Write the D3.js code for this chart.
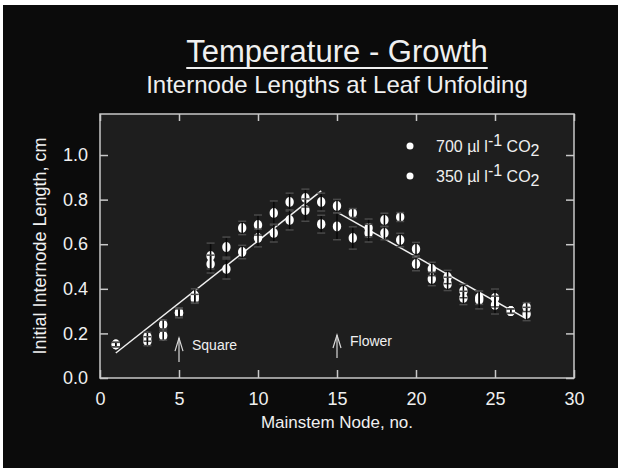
<!DOCTYPE html>
<html>
<head>
<meta charset="utf-8">
<script src="https://cdn.jsdelivr.net/npm/d3@7"></script>
<style>
  body { margin: 0; background: #ffffff; }
  svg text { font-family: "Liberation Sans", Arial, sans-serif; fill: #f0f0f0; }
</style>
</head>
<body>
<div id="container"></div>
<script>
let w = 618;
let h = 468;

// data
let nodes  = [1, 3, 4, 5, 6, 7, 8, 9, 10, 11, 12, 13, 14, 15, 16, 17, 18, 19, 20, 21, 22, 23, 24, 25, 26, 27];
let co2700 = [0.15, 0.185, 0.24, 0.295, 0.37, 0.547, 0.587, 0.673, 0.686, 0.74, 0.789, 0.807, 0.789, 0.771, 0.74, 0.673, 0.709, 0.722, 0.578, 0.489, 0.453, 0.39, 0.36, 0.359, 0.30, 0.318];
let co2350 = [0.15, 0.165, 0.19, 0.29, 0.355, 0.511, 0.489, 0.565, 0.628, 0.65, 0.709, 0.753, 0.69, 0.68, 0.628, 0.65, 0.65, 0.619, 0.511, 0.444, 0.422, 0.359, 0.35, 0.327, 0.30, 0.287];
let err700 = [0.01, 0.02, 0.02, 0.02, 0.03, 0.058, 0.045, 0.03, 0.045, 0.054, 0.04, 0.04, 0.04, 0.03, 0.02, 0.04, 0.03, 0.02, 0.03, 0.03, 0.03, 0.03, 0.03, 0.04, 0.01, 0.02];
let err350 = [0.01, 0.02, 0.02, 0.02, 0.02, 0.04, 0.045, 0.03, 0.04, 0.04, 0.045, 0.05, 0.04, 0.06, 0.05, 0.04, 0.03, 0.03, 0.03, 0.03, 0.03, 0.03, 0.04, 0.04, 0.01, 0.03];

let fitX1 = [1, 14];
let fitY1 = [0.112, 0.839];
let fitX2 = [15, 27];
let fitY2 = [0.744, 0.265];

let xTicks = [0, 5, 10, 15, 20, 25, 30];
let yTicks = [0.0, 0.2, 0.4, 0.6, 0.8, 1.0];

let arrowNodes  = [5, 15];
let arrowLabels = ["Square", "Flower"];
let arrowLow    = [0.072, 0.09];
let arrowHigh   = [0.179, 0.193];
let labelY      = [0.148, 0.166];

let legendLabels = ["700", "350"];

let pLeft = 100, pRight = 574, pTop = 114, pBottom = 378;

let viz = d3.select("#container").append("svg")
    .attr("width", w)
    .attr("height", h);

viz.append("rect")
    .attr("x", 3).attr("y", 5)
    .attr("width", w - 3).attr("height", h - 5)
    .attr("fill", "#0b0b0b");

let x = d3.scaleLinear().domain([0, 30]).range([pLeft, pRight]);
let y = d3.scaleLinear().domain([0, 1.184]).range([pBottom, pTop]);

viz.append("rect")
    .attr("x", pLeft).attr("y", pTop)
    .attr("width", pRight - pLeft).attr("height", pBottom - pTop)
    .attr("fill", "#1e1e1e");

// titles
let title = viz.append("text")
    .attr("x", (pLeft + pRight) / 2).attr("y", 62)
    .attr("text-anchor", "middle")
    .style("font-size", "31px")
    .text("Temperature - Growth");
let bb = title.node().getBBox();
viz.append("line")
    .attr("x1", bb.x).attr("x2", bb.x + bb.width)
    .attr("y1", 68).attr("y2", 68)
    .attr("stroke", "#f0f0f0").attr("stroke-width", 2);

viz.append("text")
    .attr("x", (pLeft + pRight) / 2).attr("y", 93)
    .attr("text-anchor", "middle")
    .style("font-size", "24px")
    .text("Internode Lengths at Leaf Unfolding");

// axes
let axisColor = "#c8c8c8";
function styleAxis(g) {
  g.select(".domain").remove();
  g.selectAll(".tick line").attr("stroke", axisColor).attr("stroke-width", 1.5);
  g.selectAll(".tick text").style("font-size", "18px").attr("fill", "#f0f0f0");
}

viz.append("g")
    .attr("transform", "translate(0," + pBottom + ")")
    .call(d3.axisBottom(x).tickValues(xTicks).tickSize(-8).tickPadding(14).tickFormat(d3.format("d")))
    .call(styleAxis);
viz.append("g")
    .attr("transform", "translate(0," + pTop + ")")
    .call(d3.axisTop(x).tickValues(xTicks).tickSize(-7).tickFormat(""))
    .call(styleAxis);
viz.append("g")
    .attr("transform", "translate(" + pLeft + ",0)")
    .call(d3.axisLeft(y).tickValues(yTicks).tickSize(-8).tickPadding(12).tickFormat(d3.format(".1f")))
    .call(styleAxis);
viz.append("g")
    .attr("transform", "translate(" + pRight + ",0)")
    .call(d3.axisRight(y).tickValues(yTicks).tickSize(-8).tickFormat(""))
    .call(styleAxis);

viz.append("rect")
    .attr("x", pLeft).attr("y", pTop)
    .attr("width", pRight - pLeft).attr("height", pBottom - pTop)
    .attr("fill", "none")
    .attr("stroke", axisColor).attr("stroke-width", 1.5);

viz.append("text")
    .attr("x", (pLeft + pRight) / 2).attr("y", 428)
    .attr("text-anchor", "middle")
    .style("font-size", "17px")
    .text("Mainstem Node, no.");

viz.append("text")
    .attr("transform", "translate(46," + ((pTop + pBottom) / 2) + ") rotate(-90)")
    .attr("text-anchor", "middle")
    .style("font-size", "18px")
    .text("Initial Internode Length, cm");

// fitted lines
let lineMaker = d3.line().x(d => x(d[0])).y(d => y(d[1]));
[[fitX1, fitY1], [fitX2, fitY2]].forEach(function(f) {
  viz.append("path")
      .datum(d3.zip(f[0], f[1]))
      .attr("d", lineMaker)
      .attr("fill", "none")
      .attr("stroke", "#f0f0f0")
      .attr("stroke-width", 1.5);
});

// points with error bars
let points = [];
nodes.forEach(function(n, i) {
  points.push({n: n, v: co2700[i], e: err700[i]});
  points.push({n: n, v: co2350[i], e: err350[i]});
});

viz.selectAll(".pt").data(points).enter()
  .append("ellipse")
    .attr("class", "pt")
    .attr("cx", d => x(d.n))
    .attr("cy", d => y(d.v))
    .attr("rx", 4.2).attr("ry", 5)
    .attr("fill", "#ffffff");

let bars = viz.selectAll(".bar").data(points).enter().append("g").attr("class", "bar");
bars.append("line")
    .attr("x1", d => x(d.n)).attr("x2", d => x(d.n))
    .attr("y1", d => y(d.v - d.e)).attr("y2", d => y(d.v + d.e))
    .attr("stroke", "#080808").attr("stroke-width", 1.5);
bars.append("line")
    .attr("x1", d => x(d.n) - 4).attr("x2", d => x(d.n) + 4)
    .attr("y1", d => y(d.v + d.e)).attr("y2", d => y(d.v + d.e))
    .attr("stroke", "#4a4a4a").attr("stroke-width", 1.5);
bars.append("line")
    .attr("x1", d => x(d.n) - 4).attr("x2", d => x(d.n) + 4)
    .attr("y1", d => y(d.v - d.e)).attr("y2", d => y(d.v - d.e))
    .attr("stroke", "#4a4a4a").attr("stroke-width", 1.5);

// arrows
arrowNodes.forEach(function(n, i) {
  let ax = x(n);
  let g = viz.append("g").attr("stroke", "#d8d8d8").attr("stroke-width", 1.2).attr("fill", "none");
  g.append("line").attr("x1", ax).attr("x2", ax).attr("y1", y(arrowLow[i])).attr("y2", y(arrowHigh[i]));
  g.append("path").attr("d", "M" + (ax - 4) + "," + (y(arrowHigh[i]) + 13) + "L" + ax + "," + y(arrowHigh[i]) + "L" + (ax + 4) + "," + (y(arrowHigh[i]) + 13));
  viz.append("text")
      .attr("x", ax + 13).attr("y", y(labelY[i]) + 5)
      .style("font-size", "14px")
      .text(arrowLabels[i]);
});

// legend
legendLabels.forEach(function(l, i) {
  let ly = 146 + i * 30;
  viz.append("circle").attr("cx", 410).attr("cy", ly).attr("r", 3.5).attr("fill", "#ffffff");
  let t = viz.append("text").attr("x", 436).attr("y", ly + 6).style("font-size", "16px");
  t.append("tspan").text(l + " \u00b5l l");
  t.append("tspan").attr("dy", -6).text("-1");
  t.append("tspan").attr("dy", 6).text(" CO");
  t.append("tspan").attr("dy", 4).text("2");
});
</script>
</body>
</html>
